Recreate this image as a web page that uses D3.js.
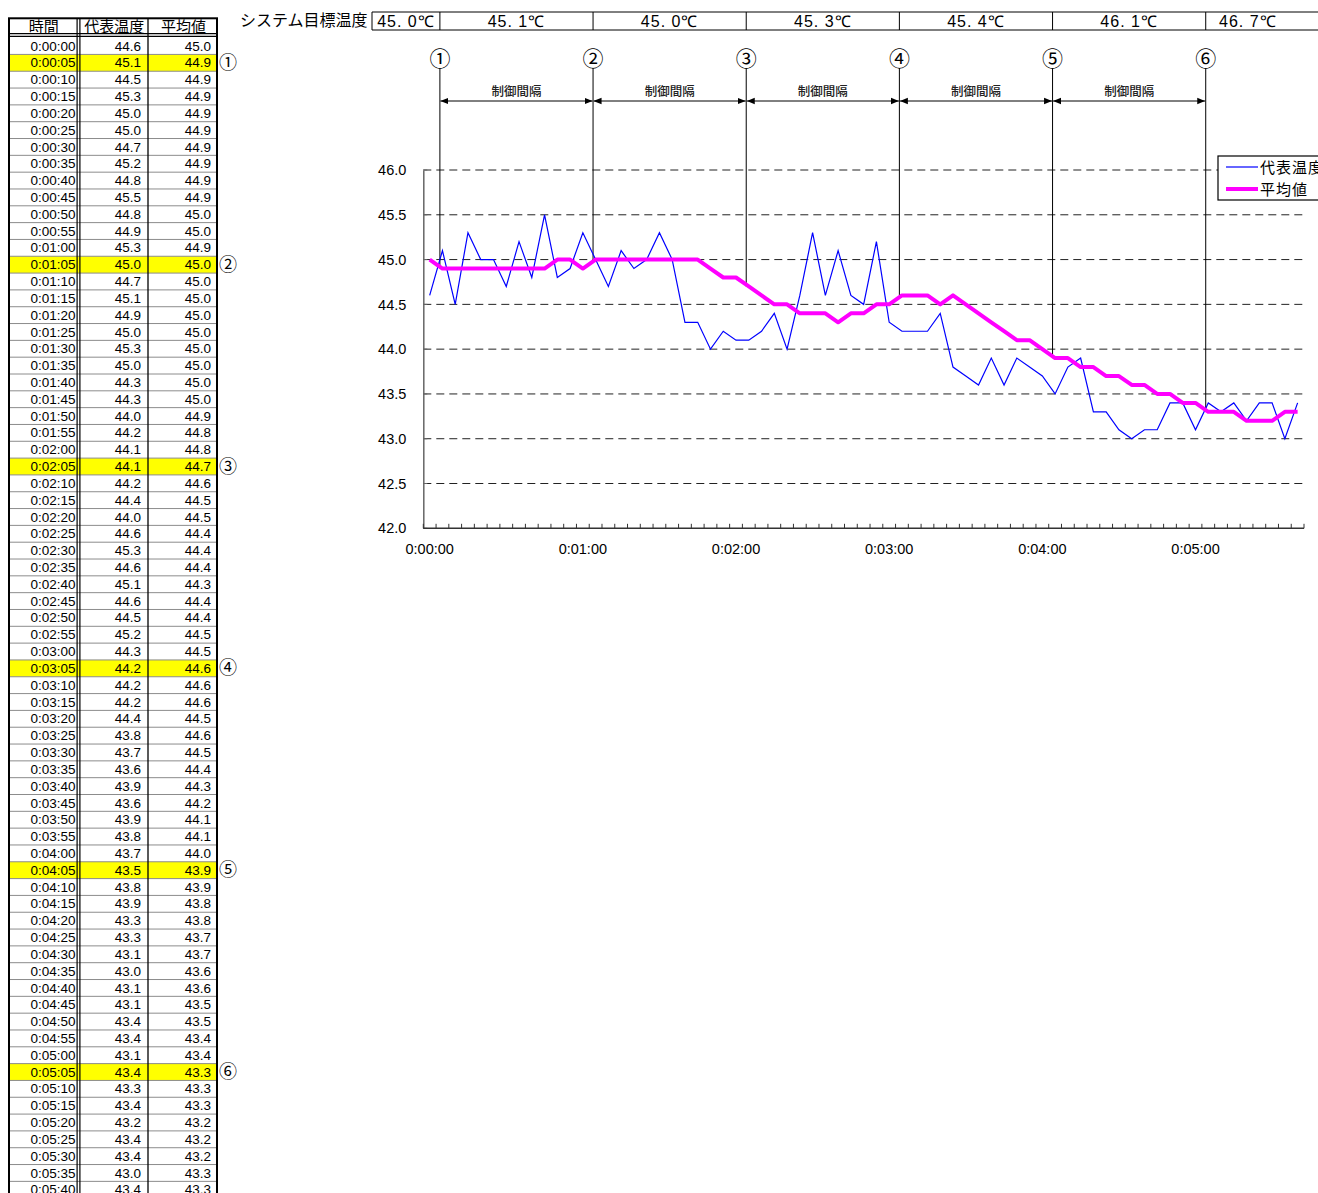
<!DOCTYPE html>
<html>
<head>
<meta charset="utf-8">
<script src="https://cdn.jsdelivr.net/npm/d3@7"></script>
<style>
  html, body { margin: 0; padding: 0; background: #fff; overflow: hidden; }
  svg { display: block; }
  .jp { font-family: "Noto Sans CJK JP", "Noto Sans", sans-serif; }
  .num { font-family: "Liberation Sans", Arial, sans-serif; }
</style>
</head>
<body>
<svg id="sheet" width="1318" height="1193"></svg>
<script>
// Sample times (every 5 seconds)
const times = [
  "0:00:00","0:00:05","0:00:10","0:00:15","0:00:20","0:00:25","0:00:30","0:00:35","0:00:40","0:00:45","0:00:50","0:00:55",
  "0:01:00","0:01:05","0:01:10","0:01:15","0:01:20","0:01:25","0:01:30","0:01:35","0:01:40","0:01:45","0:01:50","0:01:55",
  "0:02:00","0:02:05","0:02:10","0:02:15","0:02:20","0:02:25","0:02:30","0:02:35","0:02:40","0:02:45","0:02:50","0:02:55",
  "0:03:00","0:03:05","0:03:10","0:03:15","0:03:20","0:03:25","0:03:30","0:03:35","0:03:40","0:03:45","0:03:50","0:03:55",
  "0:04:00","0:04:05","0:04:10","0:04:15","0:04:20","0:04:25","0:04:30","0:04:35","0:04:40","0:04:45","0:04:50","0:04:55",
  "0:05:00","0:05:05","0:05:10","0:05:15","0:05:20","0:05:25","0:05:30","0:05:35","0:05:40"
];

// 代表温度
const repTemp = [
  44.6,45.1,44.5,45.3,45.0,45.0,44.7,45.2,44.8,45.5,44.8,44.9,
  45.3,45.0,44.7,45.1,44.9,45.0,45.3,45.0,44.3,44.3,44.0,44.2,
  44.1,44.1,44.2,44.4,44.0,44.6,45.3,44.6,45.1,44.6,44.5,45.2,
  44.3,44.2,44.2,44.2,44.4,43.8,43.7,43.6,43.9,43.6,43.9,43.8,
  43.7,43.5,43.8,43.9,43.3,43.3,43.1,43.0,43.1,43.1,43.4,43.4,
  43.1,43.4,43.3,43.4,43.2,43.4,43.4,43.0,43.4
];

// 平均値
const avgTemp = [
  45.0,44.9,44.9,44.9,44.9,44.9,44.9,44.9,44.9,44.9,45.0,45.0,
  44.9,45.0,45.0,45.0,45.0,45.0,45.0,45.0,45.0,45.0,44.9,44.8,
  44.8,44.7,44.6,44.5,44.5,44.4,44.4,44.4,44.3,44.4,44.4,44.5,
  44.5,44.6,44.6,44.6,44.5,44.6,44.5,44.4,44.3,44.2,44.1,44.1,
  44.0,43.9,43.9,43.8,43.8,43.7,43.7,43.6,43.6,43.5,43.5,43.4,
  43.4,43.3,43.3,43.3,43.2,43.2,43.2,43.3,43.3
];

// Control points (row index) and their circled labels
const controlIdx = [1, 13, 25, 37, 49, 61];
const controlMarks = ["①","②","③","④","⑤","⑥"];

// System target temperature per control interval
const targetTemps = ["45. 0℃","45. 1℃","45. 0℃","45. 3℃","45. 4℃","46. 1℃","46. 7℃"];

// Axis tick labels
const yTicks = [42.0, 42.5, 43.0, 43.5, 44.0, 44.5, 45.0, 45.5, 46.0];
const xLabelTimes = ["0:00:00","0:01:00","0:02:00","0:03:00","0:04:00","0:05:00"];

const headers = ["時間", "代表温度", "平均値"];
const seriesNames = ["代表温度", "平均値"];
const intervalLabel = "制御間隔";
const targetTitle = "システム目標温度";

const svg = d3.select("#sheet");

/* ---------------- data table ---------------- */
const tbl = svg.append("g");
const colEdges = [9, 78.5, 148, 217];
const rowTop0 = 37.6, rowH = 16.82, headTop = 18.3;
const rowY = i => rowTop0 + i * rowH;

// highlighted rows
tbl.selectAll("rect.hl").data(controlIdx).join("rect")
  .attr("x", colEdges[0]).attr("y", d => rowY(d))
  .attr("width", colEdges[3] - colEdges[0]).attr("height", rowH)
  .attr("fill", "#ffff00");

// row separators
tbl.selectAll("line.row").data(d3.range(1, times.length + 1)).join("line")
  .attr("x1", colEdges[0]).attr("x2", colEdges[3])
  .attr("y1", d => rowY(d)).attr("y2", d => rowY(d))
  .attr("stroke", "#8c8c8c").attr("stroke-width", 1);

// header double rule
[rowTop0 - 4, rowTop0 - 1.2].forEach(y =>
  tbl.append("line").attr("x1", colEdges[0]).attr("x2", colEdges[3])
    .attr("y1", y).attr("y2", y).attr("stroke", "#000").attr("stroke-width", 1.3));

// column rules
[colEdges[1] - 1.4, colEdges[1] + 1.4].forEach(x =>
  tbl.append("line").attr("x1", x).attr("x2", x).attr("y1", headTop).attr("y2", 1200)
    .attr("stroke", "#000").attr("stroke-width", 1.2));
tbl.append("line").attr("x1", colEdges[2]).attr("x2", colEdges[2]).attr("y1", headTop).attr("y2", 1200)
  .attr("stroke", "#000").attr("stroke-width", 1.3);

// outer frame
tbl.append("rect").attr("x", colEdges[0]).attr("y", headTop)
  .attr("width", colEdges[3] - colEdges[0]).attr("height", 1200)
  .attr("fill", "none").attr("stroke", "#000").attr("stroke-width", 2);

// header texts
tbl.selectAll("text.head").data(headers).join("text")
  .attr("class", "jp")
  .attr("x", (d, i) => (colEdges[i] + colEdges[i + 1]) / 2 + (i === 0 ? 0 : 1))
  .attr("y", 32).attr("text-anchor", "middle")
  .attr("font-size", 15).attr("fill", "#000").text(d => d);

// body texts
const cellText = (arr, x, fmt) =>
  tbl.append("g").selectAll("text").data(arr).join("text")
    .attr("class", "num").attr("x", x).attr("y", (d, i) => rowY(i) + 13)
    .attr("text-anchor", "end").attr("font-size", 13.5).attr("fill", "#000")
    .text(fmt);
cellText(times, 75.5, d => d);
cellText(repTemp, 141, d => d.toFixed(1));
cellText(avgTemp, 211, d => d.toFixed(1));

// circled markers beside the table
tbl.selectAll("text.mk").data(controlIdx).join("text")
  .attr("class", "jp").attr("x", 228).attr("y", d => rowY(d) + 14.5)
  .attr("text-anchor", "middle").attr("font-size", 18).attr("fill", "#000")
  .text((d, i) => controlMarks[i]);

/* ---------------- chart ---------------- */
const plot = { left: 423.3, right: 1304, top: 170, bottom: 528.3 };

const x = d3.scaleBand().domain(d3.range(times.length)).range([plot.left, plot.right]).padding(0);
const bw = x.bandwidth();
const cx = i => x(i) + bw / 2;
const y = d3.scaleLinear().domain([42, 46]).range([plot.bottom, plot.top]);

const chart = svg.append("g");

// dashed gridlines
chart.selectAll("line.grid").data(yTicks.filter(v => v > 42)).join("line")
  .attr("x1", plot.left).attr("x2", plot.right)
  .attr("y1", d => y(d)).attr("y2", d => y(d))
  .attr("stroke", "#222").attr("stroke-width", 1).attr("stroke-dasharray", "8,5");

// y axis
const yAxis = d3.axisLeft(y).tickValues(yTicks).tickSize(0).tickPadding(17).tickFormat(d3.format(".1f"));
const gy = chart.append("g").attr("transform", `translate(${plot.left},0)`).call(yAxis);
gy.select(".domain").attr("stroke", "#666").attr("stroke-width", 1.5);
gy.selectAll("text").attr("class", "num").attr("font-size", 14.5).attr("fill", "#000");
chart.selectAll("line.ytick").data(yTicks).join("line")
  .attr("x1", plot.left).attr("x2", plot.left + 4)
  .attr("y1", d => y(d)).attr("y2", d => y(d)).attr("stroke", "#666");

// x axis: inner ticks on every category boundary
const xTickPos = d3.range(times.length + 1).map(i => plot.left + i * bw);
chart.append("line").attr("x1", plot.left).attr("x2", plot.right)
  .attr("y1", plot.bottom).attr("y2", plot.bottom).attr("stroke", "#333").attr("stroke-width", 1.5);
chart.selectAll("line.xtick").data(xTickPos).join("line")
  .attr("x1", d => d).attr("x2", d => d)
  .attr("y1", plot.bottom).attr("y2", plot.bottom - 4.5)
  .attr("stroke", "#333").attr("stroke-width", 1);
chart.selectAll("text.xl").data(xLabelTimes).join("text")
  .attr("class", "num")
  .attr("x", d => cx(times.indexOf(d)))
  .attr("y", plot.bottom + 26).attr("text-anchor", "middle")
  .attr("font-size", 14.5).attr("fill", "#000").text(d => d);

// control-point verticals, from just under the circled label down to the average curve
const markX = i => x(i) + bw * 0.3;
chart.selectAll("line.ctl").data(controlIdx).join("line")
  .attr("x1", d => markX(d)).attr("x2", d => markX(d))
  .attr("y1", 68).attr("y2", d => y(avgTemp[d]))
  .attr("stroke", "#000").attr("stroke-width", 1);

chart.selectAll("text.ctl").data(controlIdx).join("text")
  .attr("class", "jp").attr("x", d => markX(d)).attr("y", 66)
  .attr("text-anchor", "middle").attr("font-size", 21).attr("fill", "#000")
  .text((d, i) => controlMarks[i]);

// interval arrows
const defs = svg.append("defs");
defs.append("marker").attr("id", "ah").attr("viewBox", "0 0 10 10")
  .attr("refX", 10).attr("refY", 5).attr("markerWidth", 8).attr("markerHeight", 8)
  .attr("markerUnits", "userSpaceOnUse").attr("orient", "auto-start-reverse")
  .append("path").attr("d", "M0,1 L10,5 L0,9 Z").attr("fill", "#000");

const spans = d3.pairs(controlIdx);
chart.selectAll("line.span").data(spans).join("line")
  .attr("x1", d => markX(d[0]) + 0.5).attr("x2", d => markX(d[1]) - 0.5)
  .attr("y1", 101).attr("y2", 101)
  .attr("stroke", "#000").attr("stroke-width", 1)
  .attr("marker-start", "url(#ah)").attr("marker-end", "url(#ah)");
chart.selectAll("text.span").data(spans).join("text")
  .attr("class", "jp").attr("x", d => (markX(d[0]) + markX(d[1])) / 2).attr("y", 96)
  .attr("text-anchor", "middle").attr("font-size", 12.5).attr("font-weight", 500).attr("fill", "#222")
  .text(intervalLabel);

// target temperature strip
const strip = svg.append("g");
strip.append("text").attr("class", "jp").attr("x", 240).attr("y", 26)
  .attr("font-size", 16).attr("fill", "#000").text(targetTitle);
const stripEdges = [372].concat(controlIdx.map(markX), [1330]);
strip.append("line").attr("x1", 372).attr("x2", 1318).attr("y1", 12).attr("y2", 12).attr("stroke", "#000");
strip.append("line").attr("x1", 372).attr("x2", 1318).attr("y1", 30).attr("y2", 30).attr("stroke", "#000");
strip.selectAll("line.sep").data(stripEdges.slice(0, -1)).join("line")
  .attr("x1", d => d).attr("x2", d => d).attr("y1", 12).attr("y2", 30)
  .attr("stroke", "#000").attr("stroke-width", 1);
strip.selectAll("text.tt").data(targetTemps).join("text")
  .attr("class", "num")
  .attr("x", (d, i) => (stripEdges[i] + stripEdges[i + 1]) / 2 - (i === targetTemps.length - 1 ? 20 : 0))
  .attr("y", 26.5).attr("text-anchor", "middle").attr("font-size", 16)
  .attr("letter-spacing", 1).attr("fill", "#000")
  .text(d => d);

// series lines
const lineGen = d3.line().x((d, i) => cx(i)).y(d => y(d));
chart.append("path").datum(repTemp).attr("d", lineGen)
  .attr("fill", "none").attr("stroke", "#0000ff").attr("stroke-width", 1.2);
chart.append("path").datum(avgTemp).attr("d", lineGen)
  .attr("fill", "none").attr("stroke", "#ff00ff").attr("stroke-width", 4)
  .attr("stroke-linejoin", "round");

// legend
const lg = svg.append("g").attr("transform", "translate(1218,156)");
lg.append("rect").attr("x", 0).attr("y", 0).attr("width", 130).attr("height", 44)
  .attr("fill", "#fff").attr("stroke", "#000").attr("stroke-width", 1.2);
const lgStyle = [{ c: "#0000ff", w: 1.2 }, { c: "#ff00ff", w: 4 }];
lg.selectAll("line.k").data(seriesNames).join("line")
  .attr("x1", 8).attr("x2", 40).attr("y1", (d, i) => 11 + i * 22).attr("y2", (d, i) => 11 + i * 22)
  .attr("stroke", (d, i) => lgStyle[i].c).attr("stroke-width", (d, i) => lgStyle[i].w);
lg.selectAll("text.k").data(seriesNames).join("text")
  .attr("class", "jp").attr("x", 42).attr("y", (d, i) => 16.5 + i * 22)
  .attr("font-size", 15).attr("letter-spacing", 1).attr("fill", "#000").text(d => d);
</script>
</body>
</html>
